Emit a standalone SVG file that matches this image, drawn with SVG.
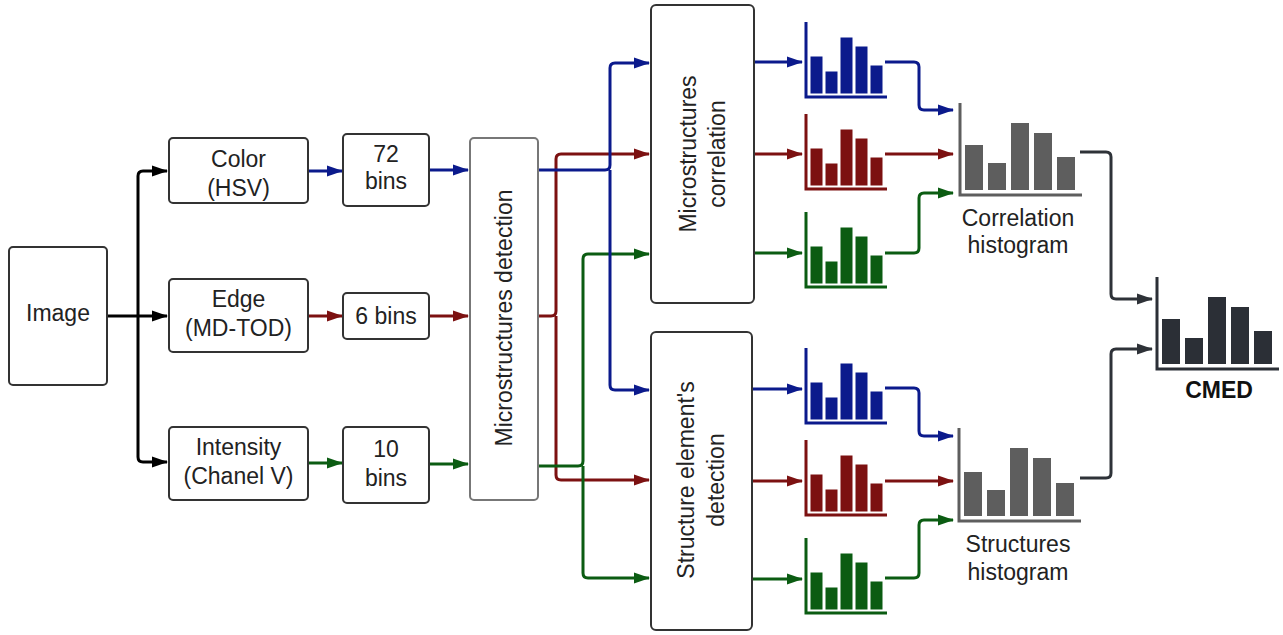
<svg xmlns="http://www.w3.org/2000/svg" width="1283" height="635" viewBox="0 0 1283 635">
<defs>
<style>
.box{fill:#fff;stroke:#333;stroke-width:2}
.boxg{fill:#fff;stroke:#777;stroke-width:2}
text{font-family:"Liberation Sans",Arial,sans-serif;font-size:23px;fill:#222;text-anchor:middle}
.c{fill:none;stroke-width:3;stroke-linejoin:round}
.k{stroke:#000}.b{stroke:#0b1a8c}.r{stroke:#7c1111}.g{stroke:#0b5c12}.d{stroke:#2e3238}
.ax{fill:none;stroke-width:3}
</style>
<marker id="ak" viewBox="0 0 16 12" refX="15" refY="6" markerWidth="16" markerHeight="12" markerUnits="userSpaceOnUse" orient="auto"><path d="M0,0.5L16,6L0,11.5z" fill="#000"/></marker>
<marker id="ab" viewBox="0 0 16 12" refX="15" refY="6" markerWidth="16" markerHeight="12" markerUnits="userSpaceOnUse" orient="auto"><path d="M0,0.5L16,6L0,11.5z" fill="#0b1a8c"/></marker>
<marker id="ar" viewBox="0 0 16 12" refX="15" refY="6" markerWidth="16" markerHeight="12" markerUnits="userSpaceOnUse" orient="auto"><path d="M0,0.5L16,6L0,11.5z" fill="#7c1111"/></marker>
<marker id="ag" viewBox="0 0 16 12" refX="15" refY="6" markerWidth="16" markerHeight="12" markerUnits="userSpaceOnUse" orient="auto"><path d="M0,0.5L16,6L0,11.5z" fill="#0b5c12"/></marker>
<marker id="ad" viewBox="0 0 16 12" refX="15" refY="6" markerWidth="16" markerHeight="12" markerUnits="userSpaceOnUse" orient="auto"><path d="M0,0.5L16,6L0,11.5z" fill="#2e3238"/></marker>
<g id="sh">
<path class="ax" d="M0,-75V0H81"/>
<rect x="5" y="-40" width="11" height="36"/>
<rect x="20" y="-25" width="11" height="21"/>
<rect x="35" y="-59" width="11" height="55"/>
<rect x="50" y="-50" width="11" height="46"/>
<rect x="65" y="-31" width="11" height="27"/>
</g>
</defs>
<rect width="1283" height="635" fill="#fff"/>

<g id="connectors">
<path class="c k" d="M107,316H167" marker-end="url(#ak)"/>
<path class="c k" d="M138,316V176Q138,171 143,171H167" marker-end="url(#ak)"/>
<path class="c k" d="M138,316V457Q138,462 143,462H167" marker-end="url(#ak)"/>
<path class="c b" d="M308,171H342" marker-end="url(#ab)"/>
<path class="c r" d="M308,316H342" marker-end="url(#ar)"/>
<path class="c g" d="M308,463H342" marker-end="url(#ag)"/>
<path class="c b" d="M429,170H468" marker-end="url(#ab)"/>
<path class="c r" d="M429,316H468" marker-end="url(#ar)"/>
<path class="c g" d="M429,464H468" marker-end="url(#ag)"/>
<path class="c r" d="M538,316H551Q556,316 556,311V159Q556,154 561,154H649" marker-end="url(#ar)"/>
<path class="c r" d="M556,316V475Q556,480 561,480H649" marker-end="url(#ar)"/>
<path class="c g" d="M538,466H578Q583,466 583,461V259Q583,254 588,254H649" marker-end="url(#ag)"/>
<path class="c g" d="M583,466V573Q583,578 588,578H649" marker-end="url(#ag)"/>
<path class="c b" d="M538,170H605Q610,170 610,165V68Q610,63 615,63H649" marker-end="url(#ab)"/>
<path class="c b" d="M610,170V385Q610,390 615,390H649" marker-end="url(#ab)"/>
<path class="c b" d="M754,62H802" marker-end="url(#ab)"/>
<path class="c r" d="M754,154H802" marker-end="url(#ar)"/>
<path class="c g" d="M754,253H802" marker-end="url(#ag)"/>
<path class="c b" d="M752,389H802" marker-end="url(#ab)"/>
<path class="c r" d="M752,481H802" marker-end="url(#ar)"/>
<path class="c g" d="M752,579H802" marker-end="url(#ag)"/>
<path class="c b" d="M885,62H914Q919,62 919,67V105Q919,110 924,110H953" marker-end="url(#ab)"/>
<path class="c r" d="M885,154H953" marker-end="url(#ar)"/>
<path class="c g" d="M885,253H914Q919,253 919,248V198Q919,193 924,193H953" marker-end="url(#ag)"/>
<path class="c b" d="M885,388H914Q919,388 919,393V431Q919,436 924,436H953" marker-end="url(#ab)"/>
<path class="c r" d="M885,481H953" marker-end="url(#ar)"/>
<path class="c g" d="M885,578H914Q919,578 919,573V525Q919,520 924,520H953" marker-end="url(#ag)"/>
<path class="c d" d="M1080,152H1106Q1111,152 1111,157V294Q1111,299 1116,299H1152" marker-end="url(#ad)"/>
<path class="c d" d="M1080,478H1106Q1111,478 1111,473V354Q1111,349 1116,349H1152" marker-end="url(#ad)"/>
</g>

<g id="image"><rect class="box" x="9" y="247" width="98" height="138" rx="4"/><text x="58" y="321">Image</text></g>
<g id="color"><rect class="box" x="169" y="138" width="139" height="65" rx="4"/><text x="238.5" y="167">Color</text><text x="238.5" y="196">(HSV)</text></g>
<g id="edge"><rect class="box" x="169" y="279" width="139" height="73" rx="4"/><text x="238.5" y="307">Edge</text><text x="238.5" y="336">(MD-TOD)</text></g>
<g id="intensity"><rect class="box" x="169" y="427" width="139" height="73" rx="4"/><text x="238.5" y="455">Intensity</text><text x="238.5" y="484">(Chanel V)</text></g>
<g id="bins72"><rect class="box" x="343" y="134" width="86" height="72" rx="4"/><text x="386" y="162">72</text><text x="386" y="189">bins</text></g>
<g id="bins6"><rect class="box" x="343" y="293" width="86" height="46" rx="4"/><text x="386" y="324">6 bins</text></g>
<g id="bins10"><rect class="box" x="343" y="427" width="86" height="76" rx="4"/><text x="386" y="457">10</text><text x="386" y="486">bins</text></g>
<g id="detection"><rect class="boxg" x="470" y="138" width="68" height="362" rx="4"/><text transform="translate(512,318) rotate(-90)">Microstructures detection</text></g>
<g id="correlation"><rect class="box" x="651" y="5" width="103" height="298" rx="5"/><text transform="translate(696,154) rotate(-90)">Microstructures</text><text transform="translate(725,154) rotate(-90)">correlation</text></g>
<g id="structdet"><rect class="box" x="651" y="332" width="101" height="298" rx="5"/><text transform="translate(694,480) rotate(-90)">Structure element's</text><text transform="translate(724,480) rotate(-90)">detection</text></g>

<g id="hist-c-blue" fill="#0b1a8c" stroke="#0b1a8c"><use href="#sh" transform="translate(806,97)"/></g>
<g id="hist-c-red" fill="#7c1111" stroke="#7c1111"><use href="#sh" transform="translate(806,189)"/></g>
<g id="hist-c-green" fill="#0b5c12" stroke="#0b5c12"><use href="#sh" transform="translate(806,287)"/></g>
<g id="hist-s-blue" fill="#0b1a8c" stroke="#0b1a8c"><use href="#sh" transform="translate(806,423)"/></g>
<g id="hist-s-red" fill="#7c1111" stroke="#7c1111"><use href="#sh" transform="translate(806,515)"/></g>
<g id="hist-s-green" fill="#0b5c12" stroke="#0b5c12"><use href="#sh" transform="translate(806,613)"/></g>

<g id="corr-hist" transform="translate(960,195)" fill="#5e5e5e">
<path class="ax" stroke="#5e5e5e" d="M0,-92V0H122"/>
<rect x="5" y="-50" width="18" height="45"/><rect x="28" y="-32" width="18" height="27"/><rect x="51" y="-72" width="18" height="67"/><rect x="74" y="-62" width="18" height="57"/><rect x="97" y="-38" width="18" height="33"/>
</g>
<g id="corr-label"><text x="1018" y="226">Correlation</text><text x="1018" y="253">histogram</text></g>
<g id="struct-hist" transform="translate(959,521)" fill="#5e5e5e">
<path class="ax" stroke="#5e5e5e" d="M0,-93V0H122"/>
<rect x="5" y="-49" width="18" height="44"/><rect x="28" y="-31" width="18" height="26"/><rect x="51" y="-73" width="18" height="68"/><rect x="74" y="-63" width="18" height="58"/><rect x="97" y="-38" width="18" height="33"/>
</g>
<g id="struct-label"><text x="1018" y="552">Structures</text><text x="1018" y="580">histogram</text></g>
<g id="cmed" transform="translate(1157,369)" fill="#2b2f36">
<path class="ax" stroke="#2b2f36" d="M0,-92V0H122"/>
<rect x="5" y="-50" width="18" height="45"/><rect x="28" y="-31" width="18" height="26"/><rect x="51" y="-72" width="18" height="67"/><rect x="74" y="-62" width="18" height="57"/><rect x="97" y="-38" width="18" height="33"/>
<text x="62" y="29" style="font-weight:bold;fill:#111">CMED</text>
</g>
</svg>
